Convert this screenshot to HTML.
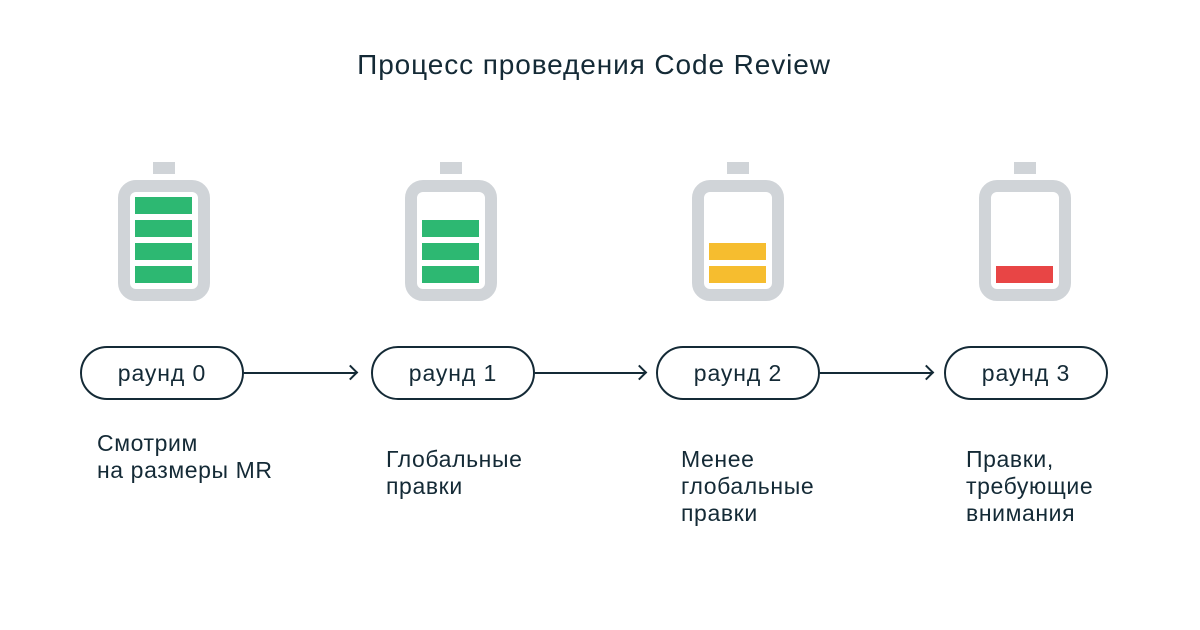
<!DOCTYPE html>
<html><head><meta charset="utf-8"><style>
body{margin:0;width:1200px;height:630px;background:#fff;position:relative;overflow:hidden;font-family:"Liberation Sans","DejaVu Sans",sans-serif;color:#142a36}
.a{position:absolute}
.cap{position:absolute;width:22px;height:12px;background:#d0d4d8}
.bat{position:absolute;width:68px;height:97px;border:12px solid #d0d4d8;border-radius:18px;top:180px}
.bar{position:absolute;left:5px;width:57px;height:17px}
.g{background:#2db872}.y{background:#f6bd2f}.r{background:#e84545}
.pill{position:absolute;top:346px;width:160px;height:50px;border:2px solid #142a36;border-radius:27px;text-align:center;line-height:50px;font-size:23px;letter-spacing:0.9px}
.ln{position:absolute;top:372px;height:2px;background:#142a36}
.ah{position:absolute;top:367px;width:9px;height:9px;border-top:2px solid #142a36;border-right:2px solid #142a36;transform:rotate(45deg)}
.t{position:absolute;top:430px;font-size:23px;line-height:27px;letter-spacing:0.6px}
</style></head><body>
<div class="a" style="top:49px;width:1188px;text-align:center;font-size:28px;letter-spacing:0.9px">Процесс проведения Code Review</div>

<div class="cap" style="left:153px;top:162px"></div>
<div class="bat" style="left:118px"><div class="bar g" style="top:5px"></div><div class="bar g" style="top:28px"></div><div class="bar g" style="top:51px"></div><div class="bar g" style="top:74px"></div></div>
<div class="cap" style="left:440px;top:162px"></div>
<div class="bat" style="left:405px"><div class="bar g" style="top:28px"></div><div class="bar g" style="top:51px"></div><div class="bar g" style="top:74px"></div></div>
<div class="cap" style="left:727px;top:162px"></div>
<div class="bat" style="left:692px"><div class="bar y" style="top:51px"></div><div class="bar y" style="top:74px"></div></div>
<div class="cap" style="left:1014px;top:162px"></div>
<div class="bat" style="left:979px"><div class="bar r" style="top:74px"></div></div>

<div class="pill" style="left:80px">раунд 0</div>
<div class="pill" style="left:371px">раунд 1</div>
<div class="pill" style="left:656px">раунд 2</div>
<div class="pill" style="left:944px">раунд 3</div>

<div class="ln" style="left:244px;width:112px"></div><div class="ah" style="left:345px"></div>
<div class="ln" style="left:535px;width:110px"></div><div class="ah" style="left:634px"></div>
<div class="ln" style="left:820px;width:112px"></div><div class="ah" style="left:921px"></div>

<div class="t" style="left:97px">Смотрим<br>на размеры MR</div>
<div class="t" style="left:386px;top:446px">Глобальные<br>правки</div>
<div class="t" style="left:681px;top:446px">Менее<br>глобальные<br>правки</div>
<div class="t" style="left:966px;top:446px">Правки,<br>требующие<br>внимания</div>
</body></html>
